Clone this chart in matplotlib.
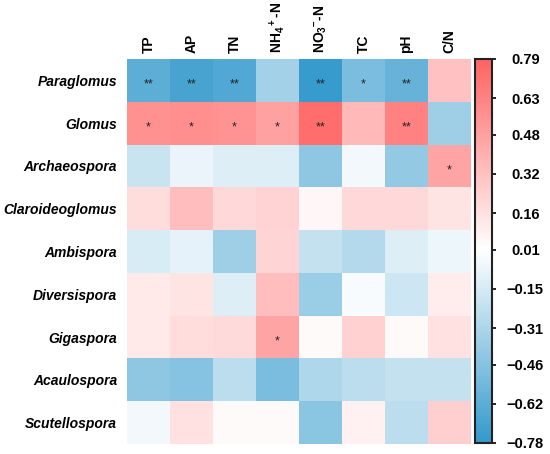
import numpy as np
import matplotlib
matplotlib.use("Agg")
import matplotlib.pyplot as plt
from matplotlib.colors import LinearSegmentedColormap, Normalize

plt.rcParams['font.family'] = ['Liberation Sans', 'DejaVu Sans']
plt.rcParams['mathtext.fontset'] = 'custom'
plt.rcParams['mathtext.rm'] = 'Liberation Sans:bold'
plt.rcParams['mathtext.bf'] = 'Liberation Sans:bold'
plt.rcParams['mathtext.it'] = 'Liberation Sans:bold:italic'
plt.rcParams['mathtext.default'] = 'regular'

columns = ["TP", "AP", "TN", "NH$_4$$^+$-N", "NO$_3$$^{\u2013}$-N", "TC", "pH", "C/N"]
rows = ["Paraglomus", "Glomus", "Archaeospora", "Claroideoglomus", "Ambispora",
        "Diversispora", "Gigaspora", "Acaulospora", "Scutellospora"]

values = [
    [-0.62, -0.70, -0.66, -0.35, -0.76, -0.50, -0.58, 0.32],
    [0.56, 0.57, 0.55, 0.48, 0.74, 0.36, 0.64, -0.36],
    [-0.20, -0.07, -0.12, -0.12, -0.42, -0.04, -0.40, 0.46],
    [0.18, 0.34, 0.20, 0.23, 0.05, 0.20, 0.20, 0.14],
    [-0.14, -0.09, -0.36, 0.22, -0.22, -0.28, -0.12, -0.06],
    [0.12, 0.14, -0.12, 0.34, -0.38, -0.02, -0.18, 0.10],
    [0.12, 0.18, 0.19, 0.46, 0.03, 0.24, 0.03, 0.16],
    [-0.42, -0.46, -0.25, -0.50, -0.30, -0.25, -0.22, -0.22],
    [-0.04, 0.16, 0.03, 0.03, -0.44, 0.08, -0.25, 0.25],
]

stars = [
    ["**", "**", "**", "", "**", "*", "**", ""],
    ["*", "*", "*", "*", "**", "", "**", ""],
    ["", "", "", "", "", "", "", "*"],
    ["", "", "", "", "", "", "", ""],
    ["", "", "", "", "", "", "", ""],
    ["", "", "", "", "", "", "", ""],
    ["", "", "", "*", "", "", "", ""],
    ["", "", "", "", "", "", "", ""],
    ["", "", "", "", "", "", "", ""],
]

cbar_ticks = [0.79, 0.63, 0.48, 0.32, 0.16, 0.01, -0.15, -0.31, -0.46, -0.62, -0.78]
vmin, vmax = -0.78, 0.79

data = np.array(values)
cmap = LinearSegmentedColormap.from_list(
    "bwr_custom", [(0.0, "#3399CC"), ((0.01 - vmin) / (vmax - vmin), "#FFFFFF"), (1.0, "#FF6363")])
norm = Normalize(vmin=vmin, vmax=vmax)

W, H = 550, 454
fig = plt.figure(figsize=(W / 100, H / 100), dpi=100)
ax = fig.add_axes([127 / W, (H - 444) / H, 344 / W, 385 / H])
ax.pcolormesh(np.arange(len(columns) + 1), np.arange(len(rows) + 1), data,
              cmap=cmap, norm=norm, shading="flat")
ax.set_xlim(0, len(columns))
ax.set_ylim(len(rows), 0)
for s in ax.spines.values():
    s.set_visible(False)
ax.xaxis.tick_top()
ax.set_xticks(np.arange(len(columns)) + 0.5)
ax.set_xticklabels(columns, rotation=90, fontsize=10, fontweight="bold")
ax.set_yticks(np.arange(len(rows)) + 0.5)
ax.set_yticklabels(rows, fontsize=10, fontweight="bold", fontstyle="italic")
ax.tick_params(length=0, pad=7)
ax.tick_params(axis="x", pad=4)

for i in range(len(rows)):
    for j in range(len(columns)):
        if stars[i][j]:
            ax.text(j + 0.5, i + 0.6, stars[i][j], ha="center", va="center",
                    fontsize=9, color="#222222")

cax = fig.add_axes([475 / W, (H - 443) / H, 17 / W, 384 / H])
cb = fig.colorbar(plt.cm.ScalarMappable(norm=norm, cmap=cmap), cax=cax)
cb.outline.set_linewidth(1.5)
cb.outline.set_edgecolor("#222222")
cb.set_ticks(cbar_ticks)
cb.set_ticklabels([f"{t:.2f}".replace("-", "\u2212") for t in cbar_ticks])
cax.tick_params(length=3, width=1.2, pad=21, labelsize=10.5)
for lbl in cax.get_yticklabels():
    lbl.set_fontweight("bold")
    lbl.set_horizontalalignment("center")

fig.savefig("out.png", dpi=100)
